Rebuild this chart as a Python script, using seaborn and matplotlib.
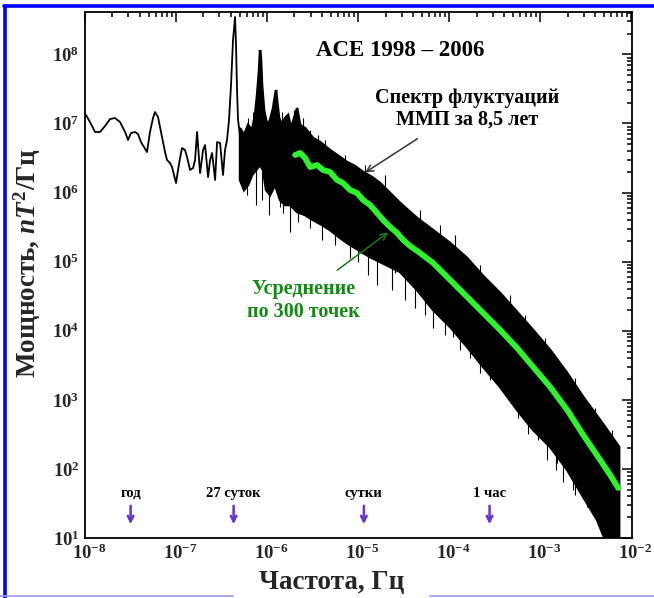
import numpy as np
import pandas as pd
import matplotlib
matplotlib.use('Agg')
import matplotlib.pyplot as plt
import matplotlib.transforms as mtransforms
from matplotlib.lines import Line2D
from matplotlib.ticker import LogLocator, NullFormatter
import seaborn as sns

# ---------------- data (log10 of frequency in Hz, log10 of power in nT^2/Hz) ----------------
lowfreq_log_f = [-7.989, -7.945, -7.890, -7.835, -7.780, -7.725, -7.670, -7.615, -7.560, -7.527,
                 -7.495, -7.451, -7.418, -7.385, -7.352, -7.319, -7.286, -7.253, -7.231, -7.198,
                 -7.154, -7.121, -7.099, -7.066, -7.044, -7.022, -7.000, -6.978, -6.956, -6.934,
                 -6.901, -6.879, -6.846, -6.813, -6.791, -6.769, -6.736, -6.703, -6.681, -6.648,
                 -6.626, -6.604, -6.571, -6.549, -6.516, -6.484, -6.462, -6.440, -6.418, -6.396,
                 -6.374, -6.352, -6.341, -6.330, -6.319, -6.297]
lowfreq_log_p = [7.122, 7.020, 6.876, 6.876, 6.962, 7.064, 7.078, 7.020, 6.876, 6.760,
                 6.861, 6.876, 6.847, 6.731, 6.658, 6.586, 6.876, 7.078, 7.165, 7.093,
                 6.803, 6.586, 6.470, 6.427, 6.369, 6.253, 6.137, 6.326, 6.499, 6.644,
                 6.615, 6.514, 6.326, 6.355, 6.470, 6.876, 6.282, 6.615, 6.687, 6.224,
                 6.470, 6.572, 6.181, 6.731, 6.716, 6.253, 6.615, 6.760, 7.049, 7.556,
                 8.207, 8.540, 8.135, 7.483, 7.049, 6.832]

band_upper_log_f = [-6.297, -6.253, -6.209, -6.165, -6.132, -6.110, -6.088, -6.077, -6.066, -6.055,
                    -6.033, -6.000, -5.967, -5.934, -5.912, -5.901, -5.890, -5.868, -5.835, -5.802,
                    -5.769, -5.736, -5.703, -5.670, -5.637, -5.582, -5.495, -5.418, -5.308, -5.198,
                    -5.121, -5.033, -4.945, -4.846, -4.758, -4.648, -4.538, -4.352, -4.176, -3.989,
                    -3.802, -3.626, -3.440, -3.253, -3.077, -2.890, -2.703, -2.527, -2.341, -2.209,
                    -2.132]
band_upper_log_p = [6.933, 6.832, 6.977, 6.904, 7.122, 7.411, 7.773, 8.062, 7.918, 7.556,
                    7.194, 6.977, 7.049, 7.223, 7.411, 7.483, 7.339, 7.078, 6.977, 7.078,
                    7.122, 6.933, 7.078, 7.223, 6.977, 6.933, 6.789, 6.731, 6.615, 6.514,
                    6.441, 6.383, 6.297, 6.224, 6.137, 5.993, 5.848, 5.631, 5.457, 5.269,
                    5.052, 4.792, 4.546, 4.271, 4.010, 3.721, 3.388, 3.041, 2.708, 2.462,
                    2.317]

band_lower_log_f = [-6.297, -6.253, -6.209, -6.165, -6.121, -6.077, -6.044, -6.011, -5.967, -5.912,
                    -5.857, -5.802, -5.747, -5.670, -5.582, -5.495, -5.396, -5.308, -5.198, -5.121,
                    -5.033, -4.945, -4.846, -4.758, -4.648, -4.538, -4.352, -4.176, -3.989, -3.802,
                    -3.626, -3.440, -3.253, -3.077, -2.890, -2.703, -2.527, -2.374, -2.286, -2.132]
band_lower_log_p = [6.181, 6.036, 6.109, 6.253, 6.326, 6.398, 6.326, 6.036, 5.964, 6.109,
                    5.891, 5.819, 5.819, 5.718, 5.674, 5.602, 5.530, 5.457, 5.342, 5.269,
                    5.197, 5.124, 5.052, 4.994, 4.922, 4.850, 4.589, 4.300, 4.054, 3.764,
                    3.475, 3.185, 2.852, 2.563, 2.317, 1.984, 1.593, 1.260, 0.971, 0.971]

spike_down_log_f = [-6.220, -6.121, -6.055, -5.978, -5.857, -5.824, -5.747, -5.659, -5.527, -5.396,
                    -5.253, -5.121, -5.088, -5.000, -4.890, -4.791, -4.725, -4.626, -4.593, -4.484,
                    -4.374, -4.264, -4.176, -4.066, -4.044, -3.956, -3.879, -3.769, -3.659, -3.549,
                    -3.385, -3.330, -3.242, -3.132, -3.022, -3.000, -2.923, -2.824, -2.813, -2.747,
                    -2.637, -2.615, -2.484]
spike_down_log_p = [5.964, 5.819, 5.891, 5.674, 5.790, 5.703, 5.428, 5.573, 5.486, 5.313,
                    5.240, 5.313, 5.052, 4.994, 4.806, 4.661, 4.980, 4.589, 4.835, 4.444,
                    4.329, 4.227, 4.039, 4.155, 3.938, 3.909, 3.721, 3.605, 3.388, 3.287,
                    3.069, 3.185, 2.737, 2.505, 2.418, 2.462, 2.129, 1.984, 2.085, 1.810,
                    1.695, 1.622, 1.449]

spike_up_log_f = [-6.209, -6.154, -6.011, -5.835, -5.703, -5.604, -5.527, -5.440, -5.363, -5.143,
                  -4.923, -4.703, -4.319, -4.099, -3.934, -3.659, -3.330, -3.165, -2.945, -2.615,
                  -2.396, -2.209]
spike_up_log_p = [7.078, 7.165, 7.078, 7.165, 7.194, 7.078, 6.904, 6.832, 6.760, 6.543,
                  6.398, 6.253, 5.747, 5.530, 5.385, 4.951, 4.517, 4.227, 3.894, 3.315,
                  2.881, 2.563]

mean_log_f = [-5.692, -5.637, -5.582, -5.527, -5.451, -5.385, -5.308, -5.231, -5.165, -5.088,
              -5.011, -4.945, -4.868, -4.791, -4.725, -4.648, -4.571, -4.505, -4.429, -4.319,
              -4.176, -3.989, -3.802, -3.626, -3.440, -3.253, -3.077, -2.890, -2.703, -2.527,
              -2.341, -2.231, -2.143]
mean_log_p = [6.543, 6.572, 6.499, 6.369, 6.398, 6.326, 6.297, 6.181, 6.137, 6.036,
              5.993, 5.891, 5.819, 5.703, 5.602, 5.501, 5.414, 5.313, 5.226, 5.124,
              4.980, 4.734, 4.488, 4.256, 4.010, 3.750, 3.475, 3.185, 2.852, 2.491,
              2.129, 1.912, 1.724]

marker_freq_hz = [3.17e-8, 4.29e-7, 1.157e-5, 2.78e-4]
marker_labels = ['год', '27 суток', 'сутки', '1 час']

x_tick_exp = [-8, -7, -6, -5, -4, -3, -2]
y_tick_exp = [1, 2, 3, 4, 5, 6, 7, 8]

title_text = 'ACE 1998 – 2006'
spectrum_text = 'Спектр флуктуаций\nММП за 8,5 лет'
mean_text = 'Усреднение\nпо 300 точек'
x_label = 'Частота, Гц'
y_label = r'Мощность, $\mathit{nT}^2$/Гц'

# ---------------- style ----------------
sns.set_theme(style='white')
plt.rcParams['font.family'] = ['Liberation Serif', 'DejaVu Serif']
plt.rcParams['font.weight'] = 'bold'
plt.rcParams['mathtext.fontset'] = 'custom'
plt.rcParams['mathtext.rm'] = 'Liberation Serif:bold'
plt.rcParams['mathtext.it'] = 'Liberation Serif:italic:bold'
plt.rcParams['mathtext.bf'] = 'Liberation Serif:bold'

W, H = 654, 598
fig = plt.figure(figsize=(W / 100, H / 100), dpi=100)
fig.patch.set_facecolor('white')
ax = fig.add_axes([85 / W, 60 / H, 547 / W, 526 / H])
ax.set_facecolor('white')
ax.set_xscale('log')
ax.set_yscale('log')

p = lambda a: np.power(10.0, np.asarray(a))

# low-frequency part of spectrum
df_low = pd.DataFrame({'f': p(lowfreq_log_f), 'P': p(lowfreq_log_p)})
sns.lineplot(data=df_low, x='f', y='P', sort=False, estimator=None, color='black', lw=1.3, ax=ax)

# dense noisy band
poly_f = np.concatenate([p(band_upper_log_f), p(band_lower_log_f)[::-1]])
poly_p = np.concatenate([p(band_upper_log_p), p(band_lower_log_p)[::-1]])
ax.fill(poly_f, poly_p, facecolor='black', edgecolor='black', lw=1.8, zorder=2)

mean_at_down = np.interp(spike_down_log_f, mean_log_f, mean_log_p)
ax.vlines(p(spike_down_log_f), p(spike_down_log_p), p(mean_at_down), color='black', lw=0.8, zorder=2)
mean_at_up = np.interp(spike_up_log_f, mean_log_f, mean_log_p)
ax.vlines(p(spike_up_log_f), p(mean_at_up), p(spike_up_log_p), color='black', lw=0.8, zorder=2)

# 300-point average
df_mean = pd.DataFrame({'f': p(mean_log_f), 'P': p(mean_log_p)})
sns.lineplot(data=df_mean, x='f', y='P', sort=False, estimator=None, color='#2ef22e', lw=4.2, ax=ax, zorder=3)

ax.set_xlim(1e-8, 1.02e-2)
ax.set_ylim(1e1, 4.1e8)
ax.set_xlabel('')
ax.set_ylabel('')

# ticks
ax.set_xticks([10.0 ** e for e in x_tick_exp])
ax.set_xticklabels([r'$\mathbf{10^{%d}}$' % e for e in x_tick_exp])
ax.set_yticks([10.0 ** e for e in y_tick_exp])
ax.set_yticklabels([r'$\mathbf{10^{%d}}$' % e for e in y_tick_exp])
ax.xaxis.set_minor_locator(LogLocator(base=10, subs=np.arange(2, 10), numticks=100))
ax.yaxis.set_minor_locator(LogLocator(base=10, subs=np.arange(2, 10), numticks=100))
ax.xaxis.set_minor_formatter(NullFormatter())
ax.yaxis.set_minor_formatter(NullFormatter())
ax.tick_params(which='both', direction='in', top=True, right=True, color='black', width=1.1)
ax.tick_params(which='major', length=7, labelsize=13.5, pad=4)
ax.tick_params(which='minor', length=3.5)
for lab in ax.get_xticklabels():
    lab.set_transform(lab.get_transform() + mtransforms.ScaledTranslation(0.04, 0, fig.dpi_scale_trans))
for s in ax.spines.values():
    s.set_color('black')
    s.set_linewidth(1.3)

# texts
ax.text(0.576, 0.927, title_text, transform=ax.transAxes, ha='center', va='center',
        fontsize=16.5, fontweight='bold', color='black')
ax.text(0.698, 0.816, spectrum_text, transform=ax.transAxes, ha='center', va='center',
        fontsize=14.5, fontweight='bold', color='black', linespacing=1.1)
ax.annotate('', xy=(0.508, 0.692), xytext=(0.612, 0.762), xycoords='axes fraction',
            arrowprops=dict(arrowstyle='->', color='#333333', lw=1.1, mutation_scale=12))
ax.text(0.400, 0.4515, mean_text, transform=ax.transAxes, ha='center', va='center',
        fontsize=14.5, fontweight='bold', color='#148a14', linespacing=1.15)
ax.annotate('', xy=(0.558, 0.584), xytext=(0.457, 0.506), xycoords='axes fraction',
            arrowprops=dict(arrowstyle='->', color='#1a7a1a', lw=1.1, mutation_scale=12))

trans = mtransforms.blended_transform_factory(ax.transData, ax.transAxes)
for f, lab in zip(marker_freq_hz, marker_labels):
    ax.annotate('', xy=(f, 0.021), xytext=(f, 0.0665), xycoords=trans,
                arrowprops=dict(arrowstyle='->', color='#6633cc', lw=1.8, mutation_scale=10))
    ax.text(f, 0.0855, lab, transform=trans, ha='center', va='center', fontsize=10.5,
            fontweight='bold', color='black')

fig.text(332 / W, 1 - 582 / H, x_label, ha='center', va='center', fontsize=19.5, fontweight='bold')
fig.text(27 / W, 1 - 263 / H, y_label, ha='center', va='center', rotation=90, fontsize=19.5,
         fontweight='bold')

# frame of the slide
ytop = 1 - 5.5 / H
fig.add_artist(Line2D([4 / W, 1], [ytop, ytop], color='#0000ff', lw=2.6, transform=fig.transFigure))
fig.add_artist(Line2D([5.5 / W, 5.5 / W], [0, ytop], color='#0000ff', lw=2.6, transform=fig.transFigure))
ybot = 1 - 596 / H
fig.add_artist(Line2D([0, 233 / W], [ybot, ybot], color='#9a9aee', lw=1.2, transform=fig.transFigure))
fig.add_artist(Line2D([430 / W, 1], [ybot, ybot], color='#9a9aee', lw=1.2, transform=fig.transFigure))

fig.savefig('out.png', dpi=100)
